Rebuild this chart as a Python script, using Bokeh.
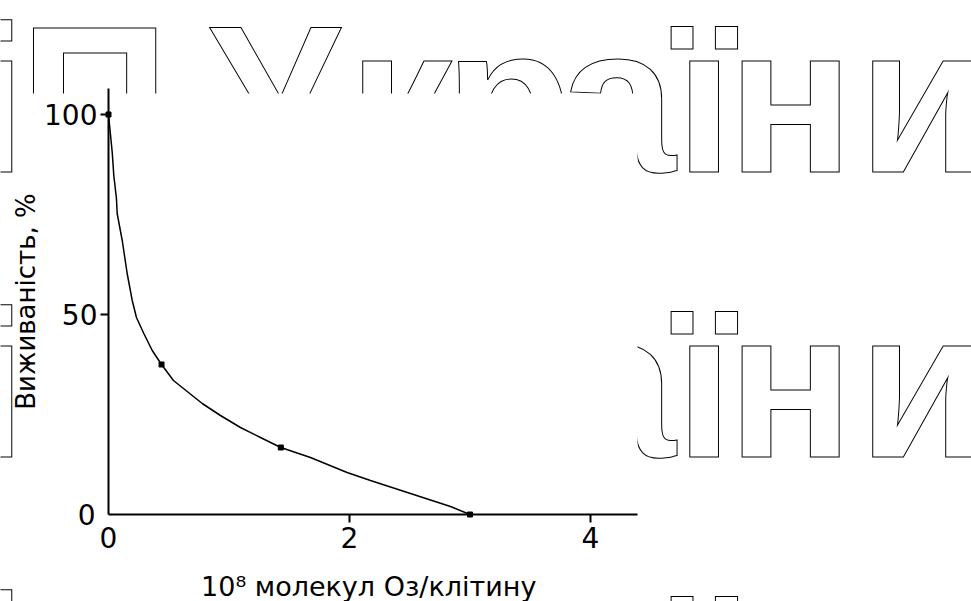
from bokeh.plotting import figure
from bokeh.models import Range1d, LinearAxis, FixedTicker, ColumnDataSource
from bokeh.core.properties import value
from bokeh.embed import file_html
from bokeh.resources import INLINE

# ---- data: survival of cells vs. ozone dose ----
dose_marks = [0.0, 0.44, 1.43, 3.0]          # 10^8 molecules O3 per cell
surv_marks = [100.0, 37.5, 16.75, 0.0]       # survival, %

dose_curve = [0.0, 0.031, 0.044, 0.066, 0.072, 0.114, 0.155, 0.197, 0.232, 0.293,
              0.363, 0.44, 0.539, 0.778, 0.929, 1.095, 1.261, 1.43, 1.676, 1.98,
              2.174, 2.506, 2.838, 3.0]
surv_curve = [100.0, 90.5, 84.75, 79.0, 75.25, 68.5, 60.25, 53.5, 49.25, 45.25,
              41.0, 37.5, 33.5, 27.75, 24.75, 21.75, 19.25, 16.75, 14.25, 10.5,
              8.5, 5.25, 2.0, 0.0]

x_ticks = [2, 4]
y_ticks = [50, 100]
x_title = "10⁸  молекул Оз/клітину"
y_title = "Виживаність, %"

# background lettering
wm_letters = ["і", "П", "У", "к", "р", "а", "ї", "н", "и"]
wm_centers = [-3, 94, 274, 400, 508, 617, 704, 790, 922]
wm_rows = [99, 384, 669]

# ---- layout of the canvas ----
W, H = 971, 601
X0_PX, X_PPU = 108.0, 120.5     # pixel of dose 0, pixels per unit
Y0_PX, Y_PPU = 514.0, 4.0       # pixel of survival 0, pixels per percent

TICK_FONT = "DejaVu Sans"
LABEL_FONT = "DejaVu Sans"

p = figure(width=W, height=H, output_backend="svg", toolbar_location=None,
           x_range=Range1d(-X0_PX / X_PPU, (W - X0_PX) / X_PPU),
           y_range=Range1d(-(H - Y0_PX) / Y_PPU, Y0_PX / Y_PPU),
           x_axis_location=None, y_axis_location=None, min_border=0)
p.xgrid.visible = False
p.ygrid.visible = False
p.outline_line_color = None
p.background_fill_color = "white"
p.border_fill_color = "white"

# pixel-space ranges for the decorative background
p.extra_x_ranges = {"px": Range1d(0, W)}
p.extra_y_ranges = {"px": Range1d(H, 0)}

for row in wm_rows:
    src = ColumnDataSource(dict(x=wm_centers, y=[row] * len(wm_centers), t=wm_letters))
    p.text(x="x", y="y", text="t", source=src, x_range_name="px", y_range_name="px",
           text_font=value("Liberation Sans"), text_font_style="bold", text_font_size="209px",
           text_align="center", text_baseline="alphabetic",
           text_color="white", text_outline_color="black")

# white sheet behind the chart
p.quad(left=[16], right=[637], top=[93], bottom=[H], x_range_name="px", y_range_name="px",
       fill_color="white", line_color=None)

# curve and measured points
p.line(dose_curve, surv_curve, line_color="black", line_width=1.5)
p.scatter(dose_marks, surv_marks, marker="square", size=5, fill_color="black", line_color="black")

x_end = (637 - X0_PX) / X_PPU
y_end = (Y0_PX - 88) / Y_PPU


def style_axis(ax, ticks):
    ax.ticker = FixedTicker(ticks=ticks)
    ax.axis_line_width = 2
    ax.axis_line_color = "black"
    ax.major_tick_line_width = 2
    ax.major_tick_line_color = "black"
    ax.major_tick_in = 0
    ax.major_tick_out = 8
    ax.minor_tick_line_color = None
    ax.major_label_text_font = TICK_FONT
    ax.major_label_text_font_size = "28px"
    ax.major_label_text_color = "black"


# x axis
xa = LinearAxis(fixed_location=0, bounds=(0, x_end))
style_axis(xa, x_ticks)
xa.major_label_standoff = 4
xa.axis_label = x_title
xa.axis_label_text_font = LABEL_FONT
xa.axis_label_text_font_style = "normal"
xa.axis_label_text_font_size = "27px"
xa.axis_label_text_color = "black"
xa.axis_label_standoff = 20
p.add_layout(xa, "below")

xz = LinearAxis(fixed_location=0, bounds=(0, x_end))
style_axis(xz, [0])
xz.major_label_standoff = 4
xz.axis_line_color = None
xz.major_tick_line_color = None
p.add_layout(xz, "below")

# y axis
ya = LinearAxis(fixed_location=0, bounds=(0, y_end))
style_axis(ya, y_ticks)
ya.major_label_standoff = 3
ya.axis_label = y_title
ya.axis_label_text_font = LABEL_FONT
ya.axis_label_text_font_style = "normal"
ya.axis_label_text_font_size = "26px"
ya.axis_label_text_color = "black"
ya.axis_label_standoff = 0
p.add_layout(ya, "left")

yz = LinearAxis(fixed_location=0, bounds=(0, y_end))
style_axis(yz, [0])
yz.major_label_standoff = 5
yz.axis_line_color = None
yz.major_tick_line_color = None
p.add_layout(yz, "left")

open("out.html", "w").write(file_html(p, INLINE))
